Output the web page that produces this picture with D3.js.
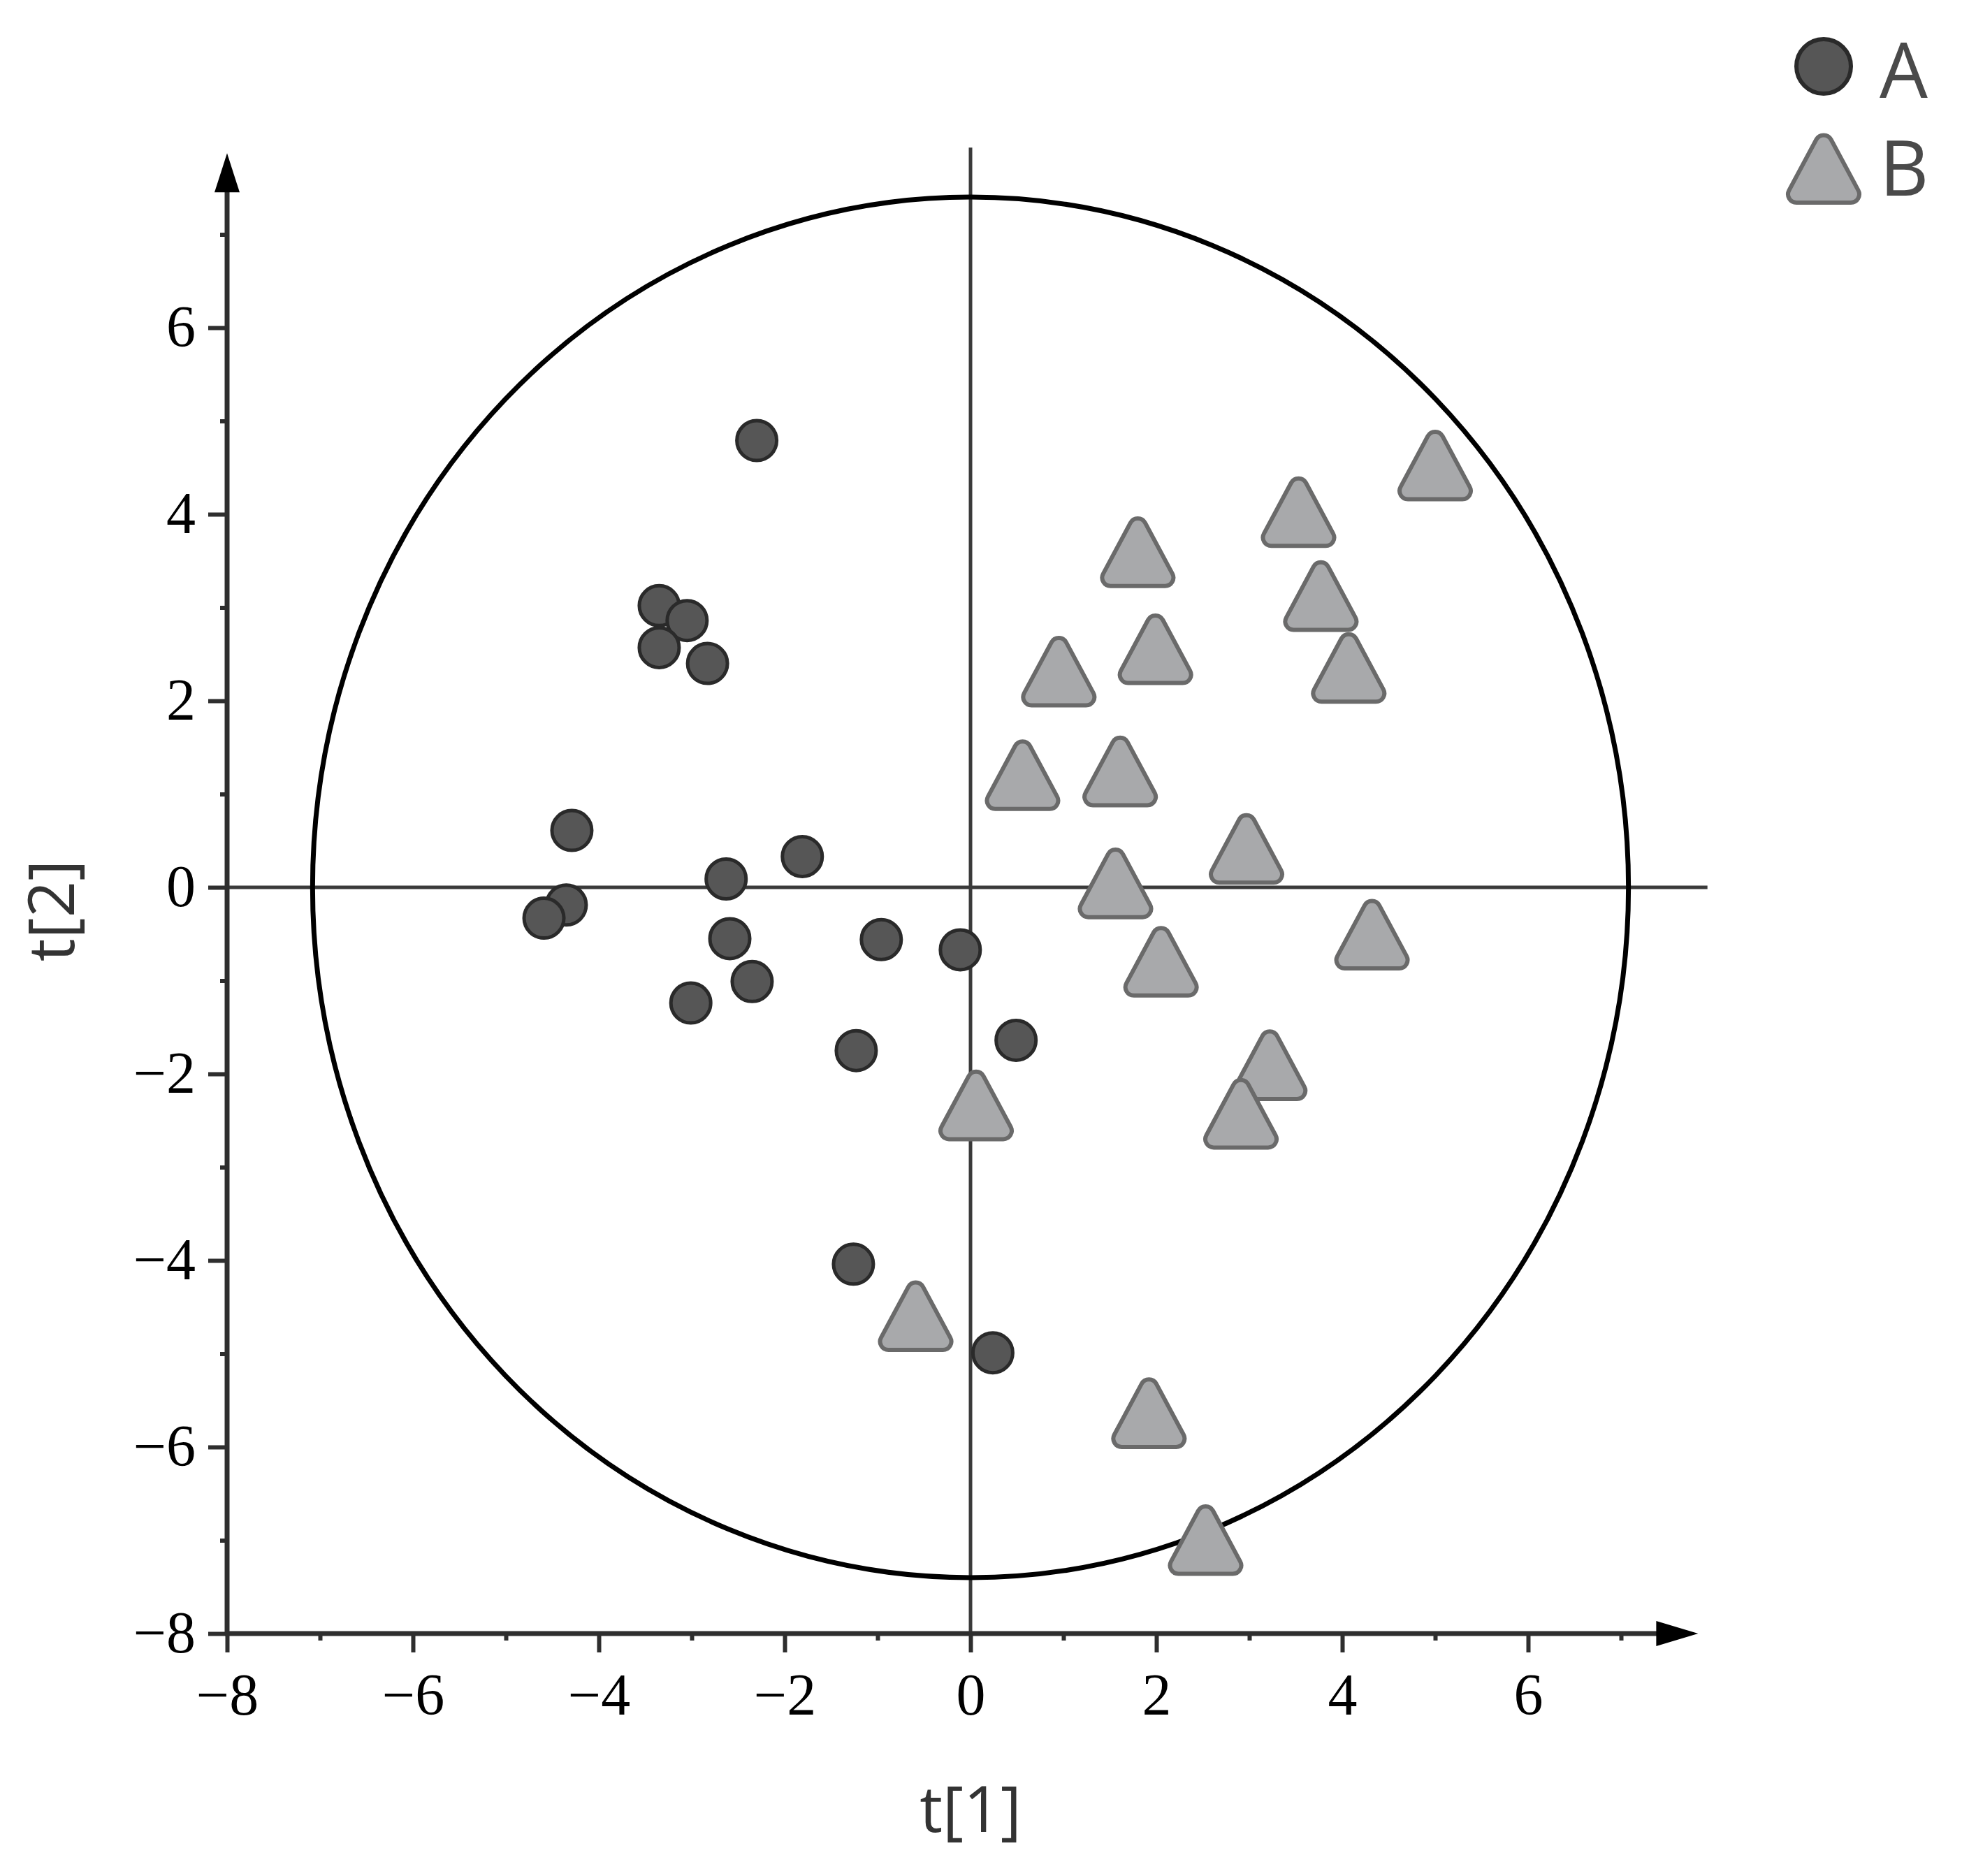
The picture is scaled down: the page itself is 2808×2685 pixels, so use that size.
<!DOCTYPE html>
<html>
<head>
<meta charset="utf-8">
<script src="https://cdn.jsdelivr.net/npm/d3@7/dist/d3.min.js"></script>
<style>
  body { margin: 0; background: #fff; }
</style>
</head>
<body>
<div id="chart"></div>
<script>
// scores, t[1] / t[2]
const groupA_t1 = [-2.30, -3.35, -3.05, -3.35, -2.83, -4.29, -1.81, -2.63, -4.35, -4.59, -2.59, -0.96, -0.11, -2.35, -3.01, -1.23, 0.49, -1.26, 0.24];
const groupA_t2 = [4.79, 3.02, 2.86, 2.57, 2.40, 0.61, 0.33, 0.09, -0.19, -0.33, -0.55, -0.56, -0.67, -1.01, -1.24, -1.75, -1.64, -4.04, -4.99];
const groupB_t1 = [5.00, 3.53, 1.80, 3.77, 1.99, 4.07, 0.95, 0.56, 1.61, 2.97, 1.56, 4.32, 2.05, 3.22, 2.91, 0.06, -0.59, 1.92, 2.53];
const groupB_t2 = [4.55, 4.05, 3.62, 3.15, 2.58, 2.38, 2.34, 1.23, 1.27, 0.44, 0.07, -0.48, -0.77, -1.88, -2.40, -2.31, -4.57, -5.61, -6.97];
const majorTicks = [-8, -6, -4, -2, 0, 2, 4, 6];
const minorTicks = [-7, -5, -3, -1, 1, 3, 5, 7];
const legendLabels = ["A", "B"];
const ellipseRadii = [7.08, 7.40]; // Hotelling T2 ellipse, t[1] and t[2]

const width = 2808, height = 2685;

const x = d3.scaleLinear([-8, 8], [325, 325 + 16 * 133]);
const y = d3.scaleLinear([-8, 8], [2338, 2338 - 16 * 133.5]);

const svg = d3.select("#chart")
    .append("svg")
    .attr("width", width)
    .attr("height", height)
    .attr("viewBox", [0, 0, width, height]);

// rounded triangle centred on its bounding box
function roundedTriangle(w, h, r) {
    const p = d3.path();
    const top = -h / 2 - 6, bot = h / 2;
    p.moveTo(0, bot);
    p.arcTo(w / 2, bot, 0, top, r);
    p.arcTo(0, top, -w / 2, bot, r);
    p.arcTo(-w / 2, bot, 0, bot, r);
    p.closePath();
    return p.toString();
}
const triPath = roundedTriangle(118, 104, 12);

// zero lines
svg.append("line")
    .attr("x1", x(0)).attr("x2", x(0))
    .attr("y1", y(7.93)).attr("y2", y(-8))
    .attr("stroke", "#3a3a3a").attr("stroke-width", 5);
svg.append("line")
    .attr("x1", x(-8)).attr("x2", x(7.93))
    .attr("y1", y(0)).attr("y2", y(0))
    .attr("stroke", "#3a3a3a").attr("stroke-width", 5);

// ellipse
svg.append("ellipse")
    .attr("cx", x(0))
    .attr("cy", y(0))
    .attr("rx", x(ellipseRadii[0]) - x(0))
    .attr("ry", y(0) - y(ellipseRadii[1]))
    .attr("fill", "none")
    .attr("stroke", "#000")
    .attr("stroke-width", 7);

// axes
const axisColor = "#2e2e2e";
const styleAxis = g => {
    g.select(".domain").remove();
    g.selectAll(".tick line").attr("stroke", axisColor).attr("stroke-width", 6);
    g.selectAll(".tick text")
        .attr("fill", "#000")
        .style("font-family", "'Liberation Serif', 'Times New Roman', serif")
        .style("font-size", "84px");
};

svg.append("g")
    .attr("transform", `translate(0,${y(-8)})`)
    .call(d3.axisBottom(x).tickValues(minorTicks).tickSize(10).tickFormat(""))
    .call(styleAxis);
svg.append("g")
    .attr("transform", `translate(0,${y(-8)})`)
    .call(d3.axisBottom(x).tickValues(majorTicks).tickSize(27).tickPadding(29))
    .call(styleAxis);
svg.append("g")
    .attr("transform", `translate(${x(-8)},0)`)
    .call(d3.axisLeft(y).tickValues(minorTicks).tickSize(10).tickFormat(""))
    .call(styleAxis);
svg.append("g")
    .attr("transform", `translate(${x(-8)},0)`)
    .call(d3.axisLeft(y).tickValues(majorTicks).tickSize(27).tickPadding(18))
    .call(styleAxis);

// axis lines with arrow heads
const xTip = x(7.83), yTip = y(7.87);
svg.append("line")
    .attr("x1", x(-8) - 3).attr("x2", xTip - 50)
    .attr("y1", y(-8)).attr("y2", y(-8))
    .attr("stroke", axisColor).attr("stroke-width", 7);
svg.append("path")
    .attr("d", `M${xTip},${y(-8)}L${xTip - 60},${y(-8) - 18}L${xTip - 60},${y(-8) + 18}Z`)
    .attr("fill", "#000");
svg.append("line")
    .attr("x1", x(-8)).attr("x2", x(-8))
    .attr("y1", y(-8) + 3).attr("y2", yTip + 50)
    .attr("stroke", axisColor).attr("stroke-width", 7);
svg.append("path")
    .attr("d", `M${x(-8)},${yTip}L${x(-8) - 18},${yTip + 56}L${x(-8) + 18},${yTip + 56}Z`)
    .attr("fill", "#000");

// axis titles
svg.append("text")
    .attr("x", x(0))
    .attr("y", 2622)
    .attr("text-anchor", "middle")
    .attr("fill", "#333")
    .style("font-family", "'Open Sans', sans-serif")
    .style("font-size", "92px")
    .text("t[1]");
svg.append("text")
    .attr("transform", `translate(106,${y(-0.25)}) rotate(-90)`)
    .attr("text-anchor", "middle")
    .attr("fill", "#333")
    .style("font-family", "'Open Sans', sans-serif")
    .style("font-size", "92px")
    .text("t[2]");

// points
const groupA = groupA_t1.map((v, i) => ({t1: v, t2: groupA_t2[i]}));
const groupB = groupB_t1.map((v, i) => ({t1: v, t2: groupB_t2[i]}));

svg.append("g")
    .selectAll("circle")
    .data(groupA)
    .join("circle")
        .attr("cx", d => x(d.t1))
        .attr("cy", d => y(d.t2))
        .attr("r", 28.5)
        .attr("fill", "#565656")
        .attr("stroke", "#2a2a2a")
        .attr("stroke-width", 5);

svg.append("g")
    .selectAll("path")
    .data(groupB)
    .join("path")
        .attr("transform", d => `translate(${x(d.t1)},${y(d.t2)})`)
        .attr("d", triPath)
        .attr("fill", "#a8a9ab")
        .attr("stroke", "#6a6a6a")
        .attr("stroke-width", 6);

// legend
const legend = svg.append("g");
legend.append("circle")
    .attr("cx", 2610).attr("cy", 95).attr("r", 39)
    .attr("fill", "#565656").attr("stroke", "#2a2a2a").attr("stroke-width", 6);
legend.append("path")
    .attr("transform", "translate(2610,238)")
    .attr("d", triPath)
    .attr("fill", "#a8a9ab").attr("stroke", "#6a6a6a").attr("stroke-width", 6);
legend.selectAll("text")
    .data(legendLabels)
    .join("text")
        .attr("x", 2690)
        .attr("y", (d, i) => 140 + i * 140)
        .attr("fill", "#4a4a4a")
        .style("font-family", "'Open Sans', sans-serif")
        .style("font-size", "109px")
        .text(d => d);
</script>
</body>
</html>
